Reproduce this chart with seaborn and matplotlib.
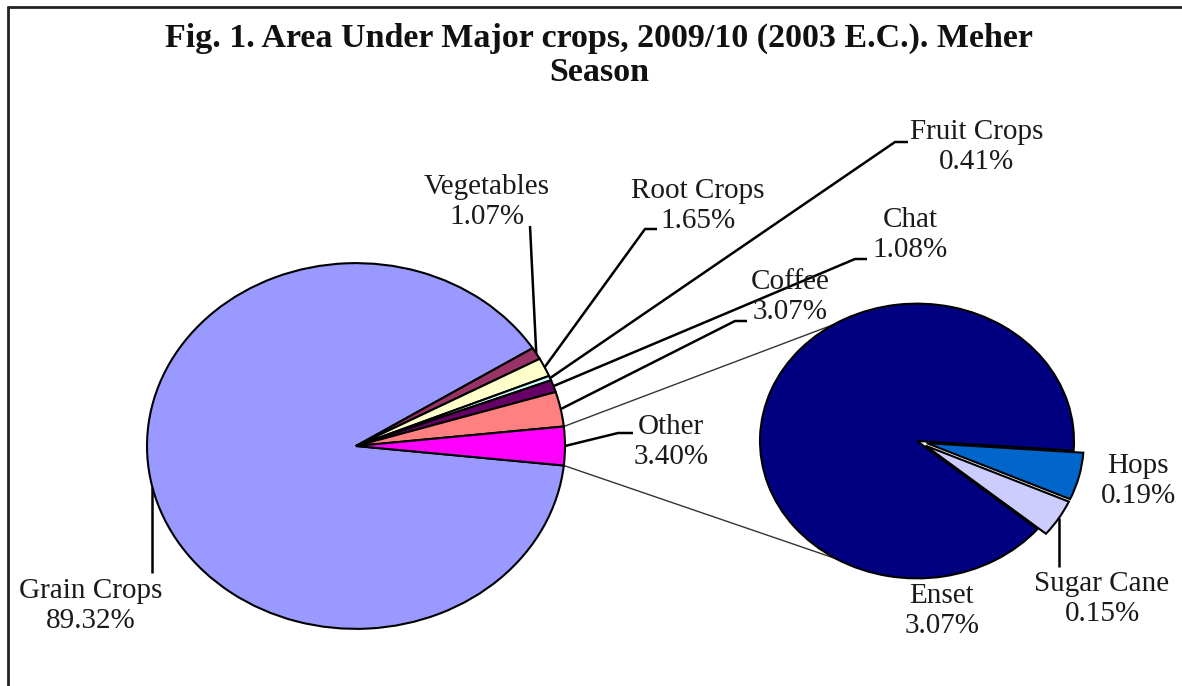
import numpy as np
import matplotlib
matplotlib.use("Agg")
import matplotlib.pyplot as plt
from matplotlib.lines import Line2D
import seaborn as sns

# main pie
main_labels = ["Grain Crops", "Vegetables", "Root Crops", "Fruit Crops", "Chat", "Coffee", "Other"]
main_values = [89.32, 1.07, 1.65, 0.41, 1.08, 3.07, 3.40]
main_colors = ["#9999FF", "#993366", "#FFFFCC", "#CCFFFF", "#660066", "#FF8080", "#FF00FF"]

# breakdown of "Other"
other_labels = ["Enset", "Hops", "Sugar Cane"]
other_values = [3.07, 0.19, 0.15]
other_colors = ["#000080", "#0066CC", "#CCCCFF"]

title = "Fig. 1. Area Under Major crops, 2009/10 (2003 E.C.). Meher\nSeason"

W, H = 1182, 686
SQ = 0.875  # chart is stretched, pies come out as ellipses


def px(x, y):
    # screen pixel -> data coords
    return x, (H - y) / SQ


def edge(w, r):
    a = np.deg2rad((w.theta1 + w.theta2) / 2)
    cx, cy = w.center
    return cx + r * np.cos(a), cy + r * np.sin(a)


sns.set_theme(style="white")
plt.rcParams["font.family"] = ["Liberation Serif", "DejaVu Serif"]

fig = plt.figure(figsize=(W / 100, H / 100), dpi=100, facecolor="white")
ax = fig.add_axes([0, 0, 1, 1])

R1, R2 = 209, 157
c1 = px(356, 446)
c2 = px(917, 441)

# "Other" slice centred on the horizontal, going clockwise
start1 = 360 - 360 * main_values[-1] / sum(main_values) / 2
w1, _ = ax.pie(main_values, colors=main_colors, startangle=start1, counterclock=False,
               center=c1, radius=R1,
               wedgeprops=dict(edgecolor="black", linewidth=1.5))

start2 = -4 + 360 * other_values[0] / sum(other_values)
w2, _ = ax.pie(other_values, colors=other_colors, startangle=start2, counterclock=False,
               center=c2, radius=R2, explode=[0, 10, 10],
               wedgeprops=dict(edgecolor="black", linewidth=1.5))

lab_kw = dict(ha="center", va="center", fontsize=21, color="#1a1a1a", linespacing=1.22)
line_kw = dict(color="black", lw=1.8, solid_capstyle="butt")

# label layout: leader path (pixels, None = straight down from edge), text centre
main_layout = {
    "Grain Crops": ([(None, 573)], (91, 606)),
    "Vegetables": ([(530, 226)], (487, 202)),
    "Root Crops": ([(645, 229), (657, 229)], (698, 206)),
    "Fruit Crops": ([(895, 142), (908, 142)], (977, 147)),
    "Chat": ([(855, 259), (867, 259)], (910, 235)),
    "Coffee": ([(735, 321), (747, 321)], (790, 297)),
    "Other": ([(618, 433), (633, 433)], (671, 442)),
}
other_layout = {
    "Enset": ([], (942, 611)),
    "Hops": ([], (1138, 481)),
    "Sugar Cane": ([(None, 567)], (1102, 599)),
}

for wedges, labels, values, layout, r in [
    (w1, main_labels, main_values, main_layout, R1),
    (w2, other_labels, other_values, other_layout, R2),
]:
    for w, lab, v in zip(wedges, labels, values):
        path, tpos = layout[lab]
        ex, ey = edge(w, r)
        if path:
            xs, ys = [ex], [ey]
            for p in path:
                x, y = px(ex if p[0] is None else p[0], p[1])
                xs.append(x)
                ys.append(y)
            ax.plot(xs, ys, **line_kw)
        ax.text(*px(*tpos), f"{lab}\n{v:.2f}%", **lab_kw)

# connector lines from "Other" slice to the secondary pie
ow = w1[-1]
for th, a2 in [(ow.theta2, 122), (ow.theta1, -121)]:
    t = np.deg2rad(th)
    x0, y0 = c1[0] + R1 * np.cos(t), c1[1] + R1 * np.sin(t)
    b = np.deg2rad(a2)
    x1, y1 = c2[0] + R2 * np.cos(b), c2[1] + R2 * np.sin(b)
    ax.plot([x0, x1], [y0, y1], color="#333333", lw=1.0, zorder=0)

ax.set_xlim(0, W)
ax.set_ylim(0, H / SQ)
ax.set_aspect("auto")
ax.axis("off")

fig.text(599 / W, 1 - 55 / H, title, ha="center", va="center", fontsize=24.5,
         fontweight="bold", linespacing=1.12, color="#111111")

# chart frame (left and top edges visible)
fig.add_artist(Line2D([8 / W, 8 / W], [0, 1 - 7 / H], color="#222222", lw=2))
fig.add_artist(Line2D([8 / W, 1], [1 - 7 / H, 1 - 7 / H], color="#222222", lw=2))

fig.savefig("out.png", dpi=100)
